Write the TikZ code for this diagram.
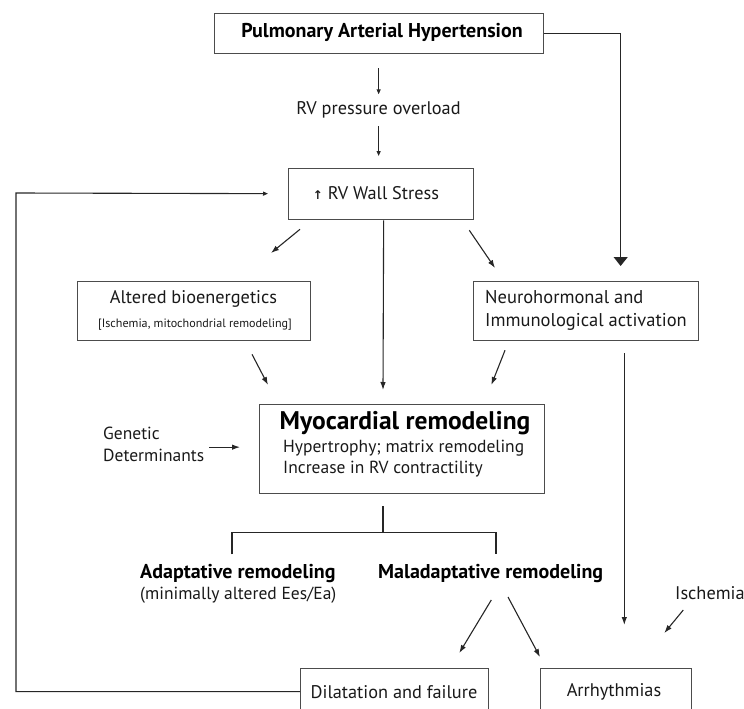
\documentclass[tikz,border=0pt]{standalone}
\usepackage{fontspec}
\setmainfont{PT Sans}
\newfontfamily\symfont{DejaVu Sans}
\usetikzlibrary{arrows.meta,calc}
\begin{document}
\begin{tikzpicture}[x=1pt,y=-1pt,
  box/.style={draw=black!70, line width=1.3pt, inner sep=0pt, anchor=north west},
  txt/.style={inner sep=0pt, text=black!90, font=\fontsize{18.3}{23}\selectfont},
  btxt/.style={inner sep=0pt, text=black, font=\fontsize{20}{24}\selectfont\bfseries},
  con/.style={draw=black!85, line width=1.1pt},
  arrS/.style={con, -{Triangle[length=5pt,width=4pt]}},
  arrM/.style={con, -{Latex[length=8pt,width=5.5pt]}},
  arrB/.style={con, -{Triangle[length=9pt,width=14pt]}}
]
\useasboundingbox (0,0) rectangle (744,709);
\clip (0,0) rectangle (744,709);

% boxes
\node[box, minimum width=329pt, minimum height=40pt] (pah) at (214,13) {};
\node[box, minimum width=185pt, minimum height=51pt] (rv) at (288,168) {};
\node[box, minimum width=233pt, minimum height=59pt] (alt) at (77,281) {};
\node[box, minimum width=225pt, minimum height=59pt] (neu) at (473,281) {};
\node[box, minimum width=285pt, minimum height=89pt] (myo) at (259,404) {};
\node[box, minimum width=188pt, minimum height=48pt] (dil) at (300,668) {};
\node[box, minimum width=151pt, minimum height=48pt] (arr) at (540,668) {};

% texts
\node[btxt] (paht) at (382,32) {Pulmonary Arterial Hypertension};
\node[txt] (press) at (378.5,110) {RV pressure overload};
\node[txt] (rvt) at (376,193) {{\symfont\bfseries\fontsize{12}{14}\selectfont ↑}\ RV Wall Stress};
\node[txt] (alt1) at (193.5,299) {Altered bioenergetics};
\node[txt, font=\fontsize{12.1}{15}\selectfont] (alt2) at (195,325) {[Ischemia, mitochondrial remodeling]};
\node[txt, align=left, anchor=west, font=\fontsize{18.5}{23}\selectfont] (neut) at (485,310.5) {Neurohormonal and\\Immunological activation};
\node[btxt, font=\fontsize{25.5}{30}\selectfont\bfseries] (myot) at (405,423) {Myocardial remodeling};
\node[txt, anchor=west, font=\fontsize{17.5}{22}\selectfont] (myo1) at (283,448) {Hypertrophy; matrix remodeling};
\node[txt, anchor=west, font=\fontsize{17.5}{22}\selectfont] (myo2) at (283,469) {Increase in RV contractility};
\node[txt, align=left, anchor=west, font=\fontsize{17.5}{22}\selectfont] (gen) at (103,444) {Genetic\\Determinants};
\node[btxt, anchor=west] (ada) at (140,574) {Adaptative remodeling};
\node[txt, anchor=west, font=\fontsize{17.5}{22}\selectfont] (ada2) at (140,595) {(minimally altered Ees/Ea)};
\node[btxt, anchor=west] (mal) at (378,574) {Maladaptative remodeling};
\node[txt, anchor=west] (isch) at (675,593) {Ischemia};
\node[txt] (dilt) at (394,692) {Dilatation and failure};
\node[txt] (arrt) at (614,692) {Arrhythmias};

% connectors
\draw[arrS] ($(pah.south)+(-0.5,14)$) -- ($(pah.south)+(-0.5,40)$);
\draw[arrS] ($(rv.north)+(-2.5,-42)$) -- ($(rv.north)+(-2.5,-12)$);
\draw[arrB] (pah.east) -| ($(neu.north)+(34.5,-15)$);
\draw[arrM] ($(rv.south west)+(12,9)$) -- ($(alt.north west)+(194,-28)$);
\draw[arrM] ($(rv.south)+(2.5,0)$) -- ($(myo.north west)+(124,-14)$);
\draw[arrM] ($(rv.south east)+(-5,10)$) -- ($(neu.north west)+(22,-13)$);
\draw[arrM] ($(alt.south west)+(175,13)$) -- ($(myo.north west)+(9,-19)$);
\draw[arrM] ($(neu.south west)+(32,9)$) -- ($(myo.north east)+(-54,-19)$);
\draw[arrM] ($(neu.south east)+(-75,12)$) -- ($(arr.north east)+(-68,-43)$);
\draw[arrM] ($(myo.west)+(-50,-2)$) -- ($(myo.west)+(-19,-2)$);
\draw[con] ($(myo.south west)+(124,12)$) -- ($(myo.south west)+(124,38)$);
\draw[con] ($(myo.south west)+(-27,60)$) |- ($(myo.south west)+(237,38)$) -- ($(myo.south west)+(237,60)$);
\draw[arrM] ($(dil.north east)+(2,-68)$) -- ($(dil.north east)+(-30,-15)$);
\draw[arrM] ($(arr.north west)+(-32,-71)$) -- ($(arr.north west)+(0,-11)$);
\draw[arrM] ($(arr.north east)+(-9,-58)$) -- ($(arr.north east)+(-28,-35)$);
\draw[arrS] ($(dil.west)+(0,-1)$) -| (16,193) -- ($(rv.west)+(-20,-0.5)$);
\end{tikzpicture}
\end{document}
